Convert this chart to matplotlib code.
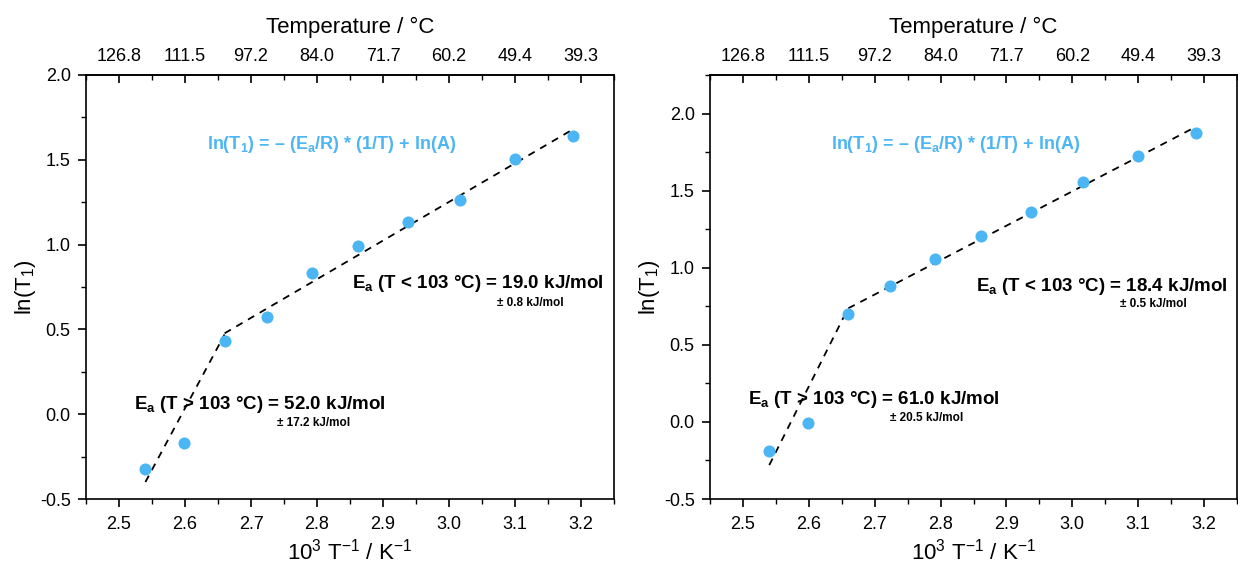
import matplotlib
matplotlib.use('Agg')
import matplotlib.pyplot as plt
from matplotlib.ticker import MultipleLocator, FixedLocator

plt.rcParams['font.family'] = ['Liberation Sans', 'DejaVu Sans']
plt.rcParams['mathtext.fontset'] = 'custom'
plt.rcParams['mathtext.rm'] = 'Liberation Sans'
plt.rcParams['mathtext.it'] = 'Liberation Sans:italic'
plt.rcParams['mathtext.bf'] = 'Liberation Sans:bold'
plt.rcParams['axes.unicode_minus'] = False

# ---- data ----
inv_T = [2.540, 2.599, 2.660, 2.724, 2.792, 2.862, 2.938, 3.016, 3.100, 3.188]
lnT1_left = [-0.325, -0.168, 0.433, 0.575, 0.834, 0.990, 1.135, 1.265, 1.503, 1.642]
lnT1_right = [-0.186, -0.009, 0.698, 0.882, 1.057, 1.208, 1.360, 1.556, 1.725, 1.876]

fit_hi_x = [2.540, 2.660]
fit_lo_x = [2.660, 3.188]
fit_hi_left = [-0.40, 0.47]
fit_lo_left = [0.477, 1.680]
fit_hi_right = [-0.28, 0.74]
fit_lo_right = [0.737, 1.915]

x_ticks = [2.5, 2.6, 2.7, 2.8, 2.9, 3.0, 3.1, 3.2]
temp_labels = ['126.8', '111.5', '97.2', '84.0', '71.7', '60.2', '49.4', '39.3']

ea_lo_left, err_lo_left = '19.0', '0.8'
ea_hi_left, err_hi_left = '52.0', '17.2'
ea_lo_right, err_lo_right = '18.4', '0.5'
ea_hi_right, err_hi_right = '61.0', '20.5'

blue = '#4cb6f4'

fig = plt.figure(figsize=(12.38, 5.65), dpi=100)
axL = fig.add_axes([86/1238, 66/565, 528/1238, 424/565])
axR = fig.add_axes([710/1238, 66/565, 527/1238, 424/565])


def style(ax, ylim):
    ax.set_xlim(2.45, 3.25)
    ax.set_ylim(*ylim)
    ax.xaxis.set_major_locator(FixedLocator(x_ticks))
    ax.xaxis.set_minor_locator(MultipleLocator(0.05))
    ax.yaxis.set_major_locator(MultipleLocator(0.5))
    ax.yaxis.set_minor_locator(MultipleLocator(0.25))
    ax.set_xticklabels([f'{v:.1f}' for v in x_ticks])
    ax.tick_params(axis='both', which='major', direction='out', length=6, width=1.2,
                   labelsize=13, top=False, right=False, pad=5)
    ax.tick_params(axis='x', which='major', pad=6)
    ax.tick_params(axis='both', which='minor', direction='out', length=3.5, width=1.0,
                   top=False, right=False)
    for s in ax.spines.values():
        s.set_linewidth(1.2)
    ax.set_xlabel(r'10$^3$ T$^{-1}$ / K$^{-1}$', fontsize=16, labelpad=4)
    ax.set_ylabel(r'ln(T$_1$)', fontsize=16, labelpad=1)
    sec = ax.secondary_xaxis('top')
    sec.xaxis.set_major_locator(FixedLocator(x_ticks))
    sec.set_xticklabels(temp_labels)
    sec.xaxis.set_minor_locator(MultipleLocator(0.05))
    sec.tick_params(axis='x', which='major', direction='in', length=6, width=1.2,
                    labelsize=13, pad=7)
    sec.tick_params(axis='x', which='minor', direction='in', length=3.5, width=1.0)
    sec.spines['top'].set_linewidth(1.2)
    sec.set_xlabel('Temperature / °C', fontsize=16, labelpad=11)


def draw(ax, y, hi, lo, eq_xy, lo_txt, hi_txt):
    ax.plot(fit_hi_x, hi, color='black', lw=1.3, ls=(0, (4, 3.5)), zorder=2)
    ax.plot(fit_lo_x, lo, color='black', lw=1.3, ls=(0, (4, 3.5)), zorder=2)
    ax.plot(inv_T, y, 'o', ms=8.7, color=blue, mec='none', zorder=3)
    ax.text(eq_xy[0], eq_xy[1], r'ln(T$_\mathbf{1}$) = – (E$_\mathbf{a}$/R) * (1/T) + ln(A)',
            color=blue, fontsize=13, fontweight='bold', ha='center', va='center')
    (x1, y1, ea1, ex1, ey1, e1), (x2, y2, ea2, ex2, ey2, e2) = lo_txt, hi_txt
    ax.text(x1, y1, r'E$_\mathbf{a}$ (T < 103 °C) = ' + ea1 + ' kJ/mol', fontsize=13.5,
            fontweight='bold', ha='left', va='center')
    ax.text(ex1, ey1, '± ' + e1 + ' kJ/mol', fontsize=8.5, fontweight='bold',
            ha='left', va='center')
    ax.text(x2, y2, r'E$_\mathbf{a}$ (T > 103 °C) = ' + ea2 + ' kJ/mol', fontsize=13.5,
            fontweight='bold', ha='left', va='center')
    ax.text(ex2, ey2, '± ' + e2 + ' kJ/mol', fontsize=8.5, fontweight='bold',
            ha='left', va='center')


style(axL, (-0.5, 2.0))
style(axR, (-0.5, 2.25))

draw(axL, lnT1_left, fit_hi_left, fit_lo_left, (2.822, 1.59),
     (2.853, 0.77, ea_lo_left, 3.072, 0.656, err_lo_left),
     (2.523, 0.06, ea_hi_left, 2.740, -0.052, err_hi_left))
draw(axR, lnT1_right, fit_hi_right, fit_lo_right, (2.823, 1.80),
     (2.854, 0.88, ea_lo_right, 3.073, 0.765, err_lo_right),
     (2.508, 0.145, ea_hi_right, 2.723, 0.026, err_hi_right))

fig.savefig('out.png', dpi=100)
